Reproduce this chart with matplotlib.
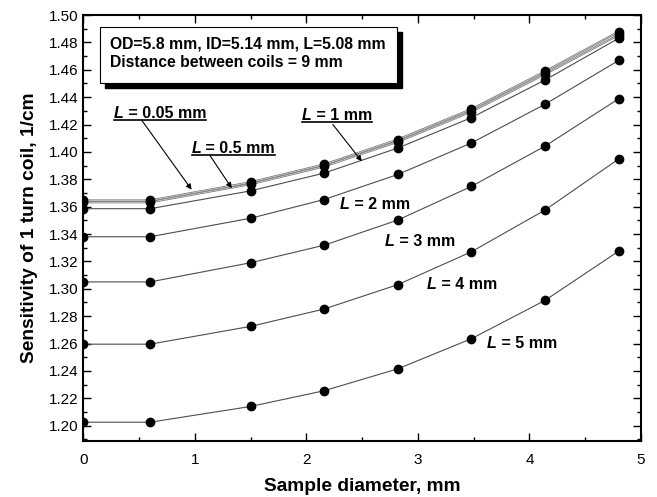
# Sensitivity of a 1-turn coil vs sample diameter for several coil lengths L

import numpy as np
import matplotlib.pyplot as plt
from matplotlib.lines import Line2D
from matplotlib.ticker import MultipleLocator

plt.rcParams['font.family'] = ['Liberation Sans', 'DejaVu Sans']

# Sample diameters (mm)
diameter = [0.0, 0.6, 1.5, 2.16, 2.82, 3.48, 4.14, 4.8]

# Sensitivity (1/cm) for each coil length
sens_L005 = [1.3645, 1.3645, 1.3778, 1.3908, 1.4090, 1.4312, 1.4588, 1.4878]
sens_L05 = [1.3632, 1.3632, 1.3764, 1.3894, 1.4074, 1.4294, 1.4568, 1.4855]
sens_L1 = [1.3585, 1.3585, 1.3715, 1.3845, 1.4028, 1.4250, 1.4525, 1.4830]
sens_L2 = [1.3380, 1.3380, 1.3515, 1.3652, 1.3835, 1.4065, 1.4348, 1.4668]
sens_L3 = [1.3050, 1.3050, 1.3190, 1.3318, 1.3502, 1.3748, 1.4042, 1.4388]
sens_L4 = [1.2595, 1.2595, 1.2725, 1.2852, 1.3030, 1.3270, 1.3575, 1.3948]
sens_L5 = [1.2025, 1.2025, 1.2140, 1.2255, 1.2415, 1.2635, 1.2915, 1.3275]

fig = plt.figure(figsize=(6.57, 4.97), dpi=100)
ax = fig.add_axes([0.1266, 0.1133, 0.849, 0.8565])

mk = dict(marker='o', markersize=6, markerfacecolor='k', markeredgecolor='k')
# two top curves look like hollow double lines in the scan
for s in [sens_L005, sens_L05]:
    ax.plot(diameter, s, color='0.45', lw=1.5, zorder=2)
    ax.plot(diameter, s, color='0.85', lw=0.5, zorder=2.1)
    ax.plot(diameter, s, lw=0, zorder=2.2, **mk)
for s in [sens_L1, sens_L2, sens_L3, sens_L4, sens_L5]:
    ax.plot(diameter, s, color='0.3', lw=0.8, **mk)

ax.set_xlim(0, 5)
ax.set_ylim(1.189, 1.50)
ax.xaxis.set_major_locator(MultipleLocator(1))
ax.xaxis.set_minor_locator(MultipleLocator(0.5))
ax.yaxis.set_major_locator(MultipleLocator(0.02))
ax.yaxis.set_minor_locator(MultipleLocator(0.01))
ax.yaxis.set_major_formatter(plt.FormatStrFormatter('%.2f'))
ax.tick_params(which='both', direction='in', top=True, right=True, labelsize=11)
ax.tick_params(which='major', length=6, width=1)
ax.tick_params(which='minor', length=3, width=1)
ax.tick_params(axis='x', pad=9)
for sp in ax.spines.values():
    sp.set_linewidth(1.5)

ax.set_xlabel('Sample diameter, mm', fontsize=13.8, fontweight='bold', labelpad=8)
ax.set_ylabel('Sensitivity of 1 turn coil, 1/cm', fontsize=13.8, fontweight='bold', labelpad=8)

# info box with a drop shadow
ax.add_patch(plt.Rectangle((0.195, 1.4467), 2.66, 0.041, facecolor='k', edgecolor='k', zorder=4))
ax.add_patch(plt.Rectangle((0.150, 1.4504), 2.66, 0.041, facecolor='white', edgecolor='k', lw=0.8, zorder=5))
ax.text(0.24, 1.4722, 'OD=5.8 mm, ID=5.14 mm, L=5.08 mm\nDistance between coils = 9 mm',
        fontsize=11.3, fontweight='bold', linespacing=1.3, va='center', zorder=6)

# curve labels: italic bold "L", rest bold
labels = [
    (0.276, 1.4280, ' = 0.05 mm', True),
    (0.973, 1.4024, ' = 0.5 mm', True),
    (1.960, 1.4268, ' = 1 mm', True),
    (2.303, 1.3617, ' = 2 mm', False),
    (2.705, 1.3348, ' = 3 mm', False),
    (3.081, 1.3031, ' = 4 mm', False),
    (3.619, 1.2597, ' = 5 mm', False),
]
pairs = []
for x, y, rest, under in labels:
    t1 = ax.text(x, y, 'L', fontsize=11.5, fontweight='bold', fontstyle='italic', va='center')
    t2 = ax.annotate(rest, xy=(1, 0), xycoords=t1, fontsize=11.5, fontweight='bold',
                     ha='left', va='bottom')
    if under:
        pairs.append((t1, t2))

# arrows from labels to the top curves
arrows = [
    ((0.525, 1.4231), (0.972, 1.3724)),
    ((1.137, 1.3973), (1.332, 1.3735)),
    ((2.238, 1.4200), (2.498, 1.3931)),
]
for start, tip in arrows:
    ax.annotate('', xy=tip, xytext=start,
                arrowprops=dict(arrowstyle='-|>', lw=0.8, color='k', mutation_scale=8,
                                shrinkA=0, shrinkB=0))

# underline the three top labels
fig.canvas.draw()
r = fig.canvas.get_renderer()
W, H = fig.bbox.width, fig.bbox.height
for t1, t2 in pairs:
    b1 = t1.get_window_extent(r)
    b2 = t2.get_window_extent(r)
    yline = min(b1.y0, b2.y0) + 1
    fig.add_artist(Line2D([b1.x0 / W, b2.x1 / W], [yline / H, yline / H],
                          transform=fig.transFigure, color='k', lw=1.2))

fig.savefig('out.png', dpi=100)
